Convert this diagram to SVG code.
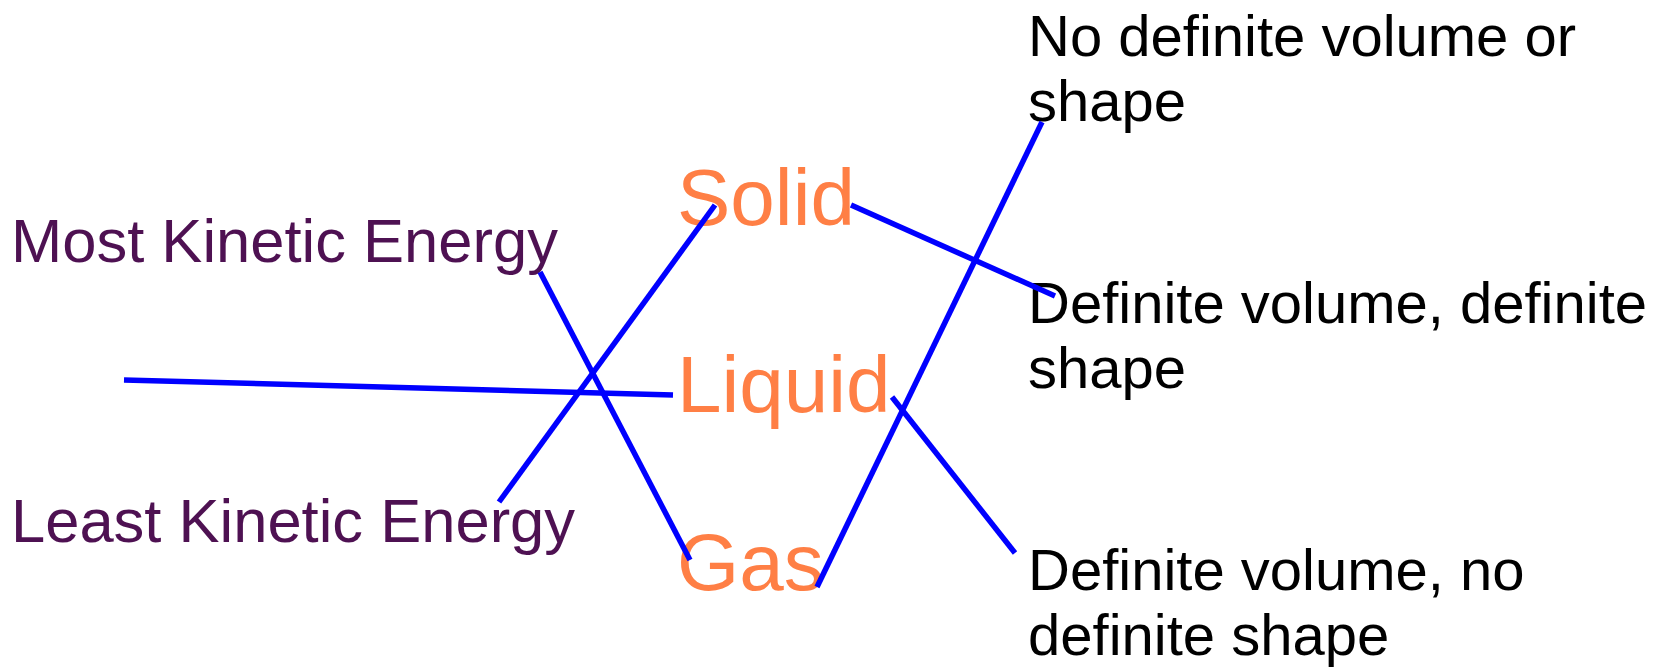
<svg xmlns="http://www.w3.org/2000/svg" width="1656" height="667" viewBox="0 0 1656 667">
<style>
.lbl{font-family:"Liberation Sans",Arial,sans-serif;fill:#4e1152;font-size:61.5px}
.state{font-family:"Liberation Sans",Arial,sans-serif;fill:#ff7f45;font-size:80px}
.prop{font-family:"Liberation Sans",Arial,sans-serif;fill:#000;font-size:58px}
.conn line{stroke:#0000ff;stroke-width:5.5;stroke-linecap:butt;fill:none}
</style>
<rect width="1656" height="667" fill="#fff"/>
<g id="most"><text class="lbl" x="11" y="262">Most Kinetic Energy</text></g>
<g id="least"><text class="lbl" x="11" y="542">Least Kinetic Energy</text></g>
<g id="solid"><text class="state" x="677" y="225">Solid</text></g>
<g id="liquid"><text class="state" x="677" y="412">Liquid</text></g>
<g id="gas"><text class="state" x="677" y="590">Gas</text></g>
<g id="nodef"><text class="prop" x="1028" y="56">No definite volume or<tspan x="1028" y="121">shape</tspan></text></g>
<g id="defdef"><text class="prop" x="1028" y="323">Definite volume, definite<tspan x="1028" y="388">shape</tspan></text></g>
<g id="defno"><text class="prop" x="1028" y="590">Definite volume, no<tspan x="1028" y="655">definite shape</tspan></text></g>
<g id="connectors" class="conn">
<line x1="124" y1="380" x2="673" y2="395"/>
<line x1="540" y1="272" x2="690" y2="560"/>
<line x1="499" y1="502" x2="715" y2="205"/>
<line x1="851" y1="205" x2="1055" y2="296"/>
<line x1="817" y1="587" x2="1042" y2="122"/>
<line x1="892" y1="397" x2="1015" y2="553"/>
</g>
</svg>
